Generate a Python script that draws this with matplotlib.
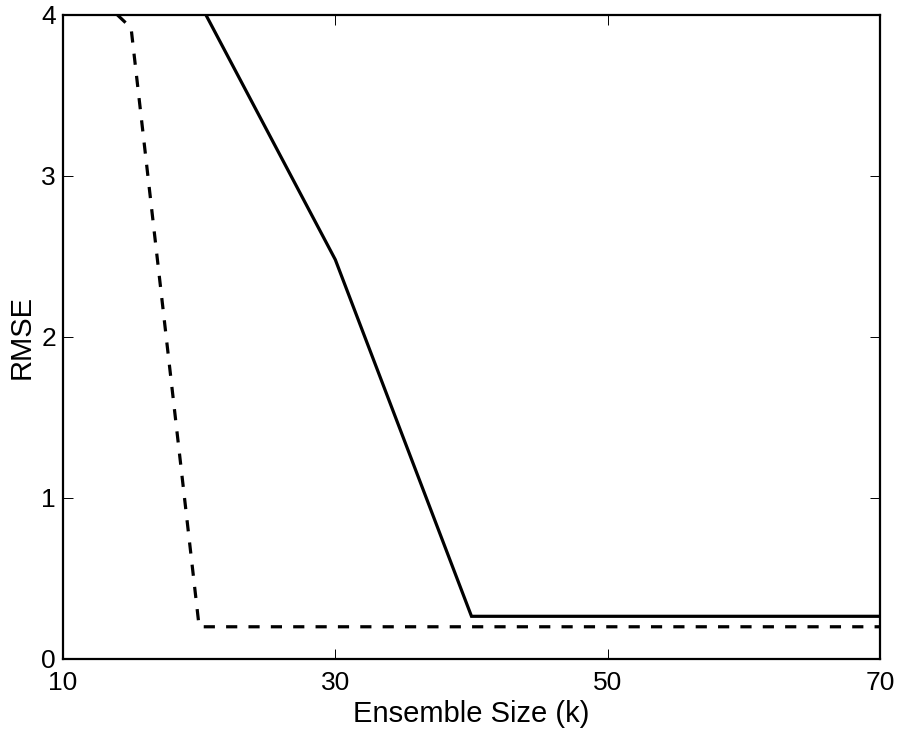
import matplotlib
matplotlib.use("Agg")
from matplotlib import pyplot as plt

plt.rcParams['font.family'] = ['Liberation Sans', 'DejaVu Sans']

# solid curve
k_solid = [20, 30, 40, 50, 60, 70]
rmse_solid = [4.08, 2.48, 0.265, 0.265, 0.265, 0.265]

# dashed curve
k_dashed = [14, 15, 20, 30, 40, 50, 60, 70]
rmse_dashed = [4.0, 3.92, 0.2, 0.2, 0.2, 0.2, 0.2, 0.2]

x_ticks = [10, 30, 50, 70]
y_ticks = [0, 1, 2, 3, 4]

fig = plt.figure(figsize=(9.01, 7.30), dpi=100)
ax = fig.add_axes([0.0699, 0.0973, 0.9068, 0.8822])

ax.plot(k_solid, rmse_solid, color='black', linewidth=2.3, solid_joinstyle='miter')
ax.plot(k_dashed, rmse_dashed, color='black', linewidth=2.3, dashes=(3.5, 3.5))

ax.set_xlim(10, 70)
ax.set_ylim(0, 4)
ax.set_xticks(x_ticks)
ax.set_yticks(y_ticks)
ax.tick_params(direction='in', top=True, right=True, length=7, width=0.7,
               labelsize=19)
ax.tick_params(axis='x', pad=8.5)
ax.tick_params(axis='y', pad=5)
for s in ax.spines.values():
    s.set_linewidth(1.6)

ax.set_xlabel('Ensemble Size (k)', fontsize=21, labelpad=4)
ax.set_ylabel('RMSE', fontsize=21, labelpad=4)

fig.savefig('out.png', dpi=100)
